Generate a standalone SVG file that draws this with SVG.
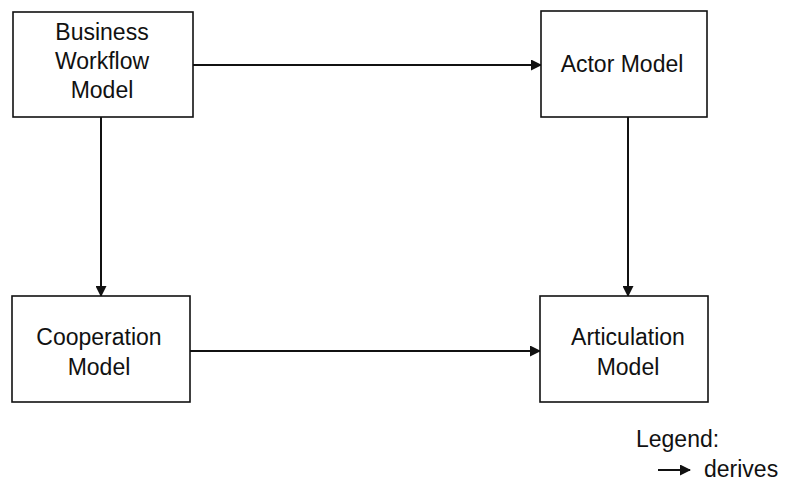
<svg xmlns="http://www.w3.org/2000/svg" width="787" height="484" viewBox="0 0 787 484">
<style>
.box{fill:#fff;stroke:#111;stroke-width:1.6}
.lbl{font-family:"Liberation Sans",Arial,sans-serif;font-size:23px;fill:#111;text-anchor:middle}
.leg{font-family:"Liberation Sans",Arial,sans-serif;font-size:23px;fill:#111}
.edge{fill:none;stroke:#111;stroke-width:2}
</style>
<defs>
<marker id="ah" markerWidth="11" markerHeight="11" refX="10" refY="5.5" orient="auto" markerUnits="userSpaceOnUse">
<path d="M0,0 L11,5.5 L0,11 Z" fill="#111"/>
</marker>
</defs>
<g id="connectors">
<line class="edge" x1="193" y1="65" x2="541" y2="65" marker-end="url(#ah)"/>
<line class="edge" x1="101" y1="117" x2="101" y2="296" marker-end="url(#ah)"/>
<line class="edge" x1="628" y1="117" x2="628" y2="296" marker-end="url(#ah)"/>
<line class="edge" x1="190" y1="351" x2="540" y2="351" marker-end="url(#ah)"/>
</g>
<g id="business-workflow-model">
<rect class="box" x="13" y="12" width="180" height="105"/>
<text class="lbl" x="102" y="40">Business</text>
<text class="lbl" x="102" y="69">Workflow</text>
<text class="lbl" x="102" y="98">Model</text>
</g>
<g id="actor-model">
<rect class="box" x="541" y="11" width="166" height="106"/>
<text class="lbl" x="622" y="72">Actor Model</text>
</g>
<g id="cooperation-model">
<rect class="box" x="12" y="296" width="178" height="106"/>
<text class="lbl" x="99" y="345">Cooperation</text>
<text class="lbl" x="99" y="375">Model</text>
</g>
<g id="articulation-model">
<rect class="box" x="540" y="296" width="168" height="106"/>
<text class="lbl" x="628" y="345">Articulation</text>
<text class="lbl" x="628" y="375">Model</text>
</g>
<g id="legend">
<text class="leg" x="636" y="447">Legend:</text>
<line class="edge" x1="658" y1="470" x2="690" y2="470" marker-end="url(#ah)"/>
<text class="leg" x="704" y="477">derives</text>
</g>
</svg>
